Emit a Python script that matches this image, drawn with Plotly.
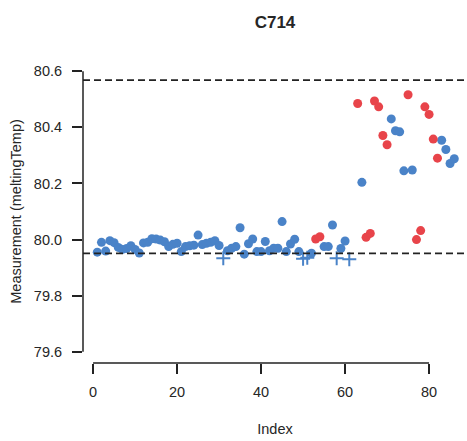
import plotly.graph_objects as go

title_text = "C714"
x_label = "Index"
y_label = "Measurement (meltingTemp)"
upper_limit = 80.568
lower_limit = 79.951
x_ticks = [0, 20, 40, 60, 80]
y_ticks = [79.6, 79.8, 80.0, 80.2, 80.4, 80.6]

index = [1, 2, 3, 4, 5, 6, 7, 8, 9, 10,
         11, 12, 13, 14, 15, 16, 17, 18, 19, 20,
         21, 22, 23, 24, 25, 26, 27, 28, 29, 30,
         31, 32, 33, 34, 35, 36, 37, 38, 39, 40,
         41, 42, 43, 44, 45, 46, 47, 48, 49, 50,
         51, 52, 53, 54, 55, 56, 57, 58, 59, 60,
         61, 63, 64, 65, 66, 67, 68, 69, 70,
         71, 72, 73, 74, 75, 76, 77, 78, 79, 80,
         81, 82, 83, 84, 85, 86]
measurement = [79.955, 79.990, 79.959, 79.996, 79.989, 79.972, 79.965, 79.968, 79.978, 79.965,
               79.952, 79.988, 79.990, 80.003, 80.002, 79.998, 79.992, 79.975, 79.983, 79.987,
               79.957, 79.975, 79.978, 79.980, 80.016, 79.982, 79.987, 79.990, 79.996, 79.979,
               79.933, 79.960, 79.969, 79.975, 80.042, 79.948, 79.985, 80.002, 79.957, 79.957,
               79.993, 79.960, 79.969, 79.969, 80.064, 79.957, 79.984, 80.001, 79.957, 79.932,
               79.935, 79.951, 80.002, 80.010, 79.975, 79.975, 80.052, 79.933, 79.968, 79.995,
               79.930, 80.485, 80.204, 80.008, 80.022, 80.494, 80.473, 80.371, 80.338,
               80.430, 80.388, 80.384, 80.245, 80.516, 80.248, 80.000, 80.032, 80.473, 80.446,
               80.358, 80.290, 80.354, 80.321, 80.271, 80.288]
# status: "ok" = blue dot, "flag" = red dot, "low" = blue cross
status = ["ok", "ok", "ok", "ok", "ok", "ok", "ok", "ok", "ok", "ok",
          "ok", "ok", "ok", "ok", "ok", "ok", "ok", "ok", "ok", "ok",
          "ok", "ok", "ok", "ok", "ok", "ok", "ok", "ok", "ok", "ok",
          "low", "ok", "ok", "ok", "ok", "ok", "ok", "ok", "ok", "ok",
          "ok", "ok", "ok", "ok", "ok", "ok", "ok", "ok", "ok", "low",
          "low", "ok", "flag", "flag", "ok", "ok", "ok", "low", "ok", "ok",
          "low", "flag", "ok", "flag", "flag", "flag", "flag", "flag", "flag",
          "ok", "ok", "ok", "ok", "flag", "ok", "flag", "flag", "flag", "flag",
          "flag", "flag", "ok", "ok", "ok", "ok"]

BLUE = "#4a83c8"
RED = "#e8444a"
AXIS = "#222222"
TEXT = "#262626"
FONT = "Liberation Sans, Arial, sans-serif"


def pick(code):
    xs = [i for i, s in zip(index, status) if s == code]
    ys = [v for v, s in zip(measurement, status) if s == code]
    return xs, ys


fig = go.Figure()
x_ok, y_ok = pick("ok")
fig.add_trace(go.Scatter(x=x_ok, y=y_ok, mode="markers",
                         marker=dict(color=BLUE, size=9, line=dict(width=0))))
x_fl, y_fl = pick("flag")
fig.add_trace(go.Scatter(x=x_fl, y=y_fl, mode="markers",
                         marker=dict(color=RED, size=9, line=dict(width=0))))
x_lo, y_lo = pick("low")
fig.add_trace(go.Scatter(x=x_lo, y=y_lo, mode="markers",
                         marker=dict(symbol="cross-thin-open", color=BLUE, size=10,
                                     line=dict(color=BLUE, width=2))))

shapes = [
    dict(type="line", xref="paper", yref="y", x0=0, x1=1, y0=upper_limit, y1=upper_limit,
         line=dict(color=AXIS, width=1.8, dash="7px,4px")),
    dict(type="line", xref="paper", yref="y", x0=0, x1=1, y0=lower_limit, y1=lower_limit,
         line=dict(color=AXIS, width=1.8, dash="7px,4px")),
    # R-style axis lines spanning only the tick range
    dict(type="line", xref="x", yref="paper", x0=x_ticks[0], x1=x_ticks[-1], y0=0, y1=0,
         line=dict(color=AXIS, width=1.5)),
    dict(type="line", xref="paper", yref="y", x0=0, x1=0, y0=y_ticks[0], y1=y_ticks[-1],
         line=dict(color=AXIS, width=1.5)),
]

fig.update_layout(
    width=467, height=441,
    margin=dict(l=83, r=0, t=60, b=78, pad=0),
    paper_bgcolor="white", plot_bgcolor="white",
    showlegend=False,
    font=dict(family=FONT, size=14, color=TEXT),
    shapes=shapes,
    title=dict(text="<b>" + title_text + "</b>", x=275 / 467, y=1 - 22 / 441,
               xanchor="center", yanchor="middle",
               font=dict(size=17, color=TEXT, family=FONT)),
)

fig.update_xaxes(range=[-2.4, 89.03], tickvals=x_ticks, ticks="outside", ticklen=10,
                 tickwidth=1.5, tickcolor=AXIS, showline=False, showgrid=False,
                 zeroline=False, ticklabelstandoff=6,
                 tickfont=dict(size=14.5, color=TEXT, family=FONT),
                 title=dict(text=x_label, standoff=24, font=dict(size=14.5, color=TEXT, family=FONT)))
fig.update_yaxes(range=[79.56, 80.64], tickvals=y_ticks, tickformat=".1f", ticks="outside",
                 ticklen=10, tickwidth=1.5, tickcolor=AXIS, showline=False, showgrid=False,
                 zeroline=False, ticklabelstandoff=7,
                 tickfont=dict(size=14.5, color=TEXT, family=FONT),
                 title=dict(text=y_label, standoff=8, font=dict(size=14.5, color=TEXT, family=FONT)))

fig.write_html("out.html")
